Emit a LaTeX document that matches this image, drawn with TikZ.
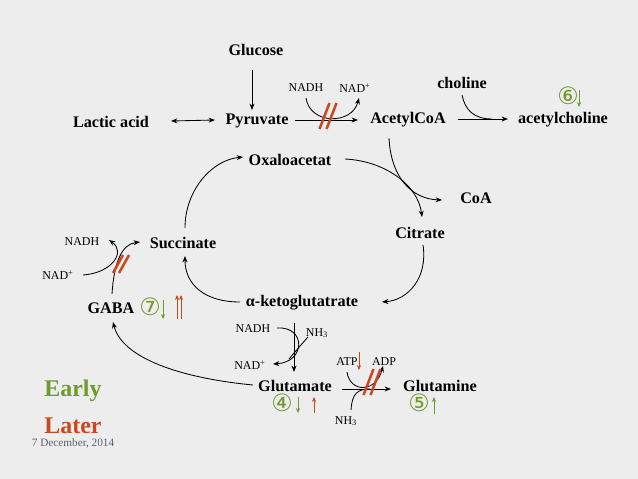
\documentclass[tikz,border=0pt]{standalone}
\usepackage{fontspec}
\setmainfont{Liberation Serif}
\newfontfamily\circfont{DejaVu Sans}
\usetikzlibrary{arrows.meta}
\definecolor{bgcol}{HTML}{EDEDED}
\definecolor{early}{HTML}{6E9B2C}
\definecolor{later}{HTML}{C9491F}
\definecolor{datecol}{HTML}{5A6070}
\tikzset{
  >={Stealth[length=4.5pt,width=3.5pt]},
  met/.style={font=\fontsize{11.5}{13}\selectfont\bfseries, inner sep=1pt},
  cof/.style={font=\fontsize{8.5}{10}\selectfont, inner sep=1pt},
  circ/.style={font=\circfont\fontsize{17}{19}\selectfont, text=early, inner sep=0pt},
  flow/.style={->, line width=0.6pt},
  block/.style={later, line width=1.8pt},
  ind/.style={-{Stealth[length=3.5pt,width=3pt]}, line width=0.7pt},
}
\begin{document}
\begin{tikzpicture}[x=0.025cm, y=-0.025cm]
  \fill[bgcol] (0,0) rectangle (638,479);
  % metabolites
  \node[met] (glucose)   at (256,50)  {Glucose};
  \node[met] (lactic)    at (111,122) {Lactic acid};
  \node[met] (pyruvate)  at (257,121) {Pyruvate};
  \node[met] (acetyl)    at (408,120) {AcetylCoA};
  \node[met] (choline)   at (462,83)  {choline};
  \node[met] (achol)     at (563,120) {acetylcholine};
  \node[met] (oxalo)     at (290,160) {Oxaloacetat};
  \node[met] (coa)       at (476,198) {CoA};
  \node[met] (citrate)   at (420,233) {Citrate};
  \node[met] (succ)      at (183,243) {Succinate};
  \node[met] (akg)       at (302,303) {α-ketoglutatrate};
  \node[met] (gaba)      at (111,308) {GABA};
  \node[met] (glutamate) at (295,386) {Glutamate};
  \node[met] (glutamine) at (440,386) {Glutamine};
  % cofactors
  \node[cof] (nadhA) at (306,88)  {NADH};
  \node[cof] (nadA)  at (355,88)  {NAD\textsuperscript{+}};
  \node[cof] (nadhB) at (82,242)  {NADH};
  \node[cof] (nadB)  at (58,275)  {NAD\textsuperscript{+}};
  \node[cof] (nadhC) at (253,329) {NADH};
  \node[cof] (nhC)   at (317,333) {NH\textsubscript{3}};
  \node[cof] (nadC)  at (250,365) {NAD\textsuperscript{+}};
  \node[cof] (atp)   at (347,362) {ATP};
  \node[cof] (adp)   at (384,362) {ADP};
  \node[cof] (nhD)   at (346,421) {NH\textsubscript{3}};
  \node[circ] (four)  at (282,403) {④};
  \node[circ] (five)  at (419,403) {⑤};
  \node[circ] (six)   at (568,96)  {⑥};
  \node[circ] (seven) at (150,307) {⑦};
  \node[font=\fontsize{17}{20}\selectfont\bfseries, text=early] (early) at (73,391) {Early};
  \node[font=\fontsize{17}{20}\selectfont\bfseries, text=later] (later) at (73,426) {Later};
  \node[font=\fontsize{8}{10}\selectfont, text=datecol] (date) at (73,443) {7 December, 2014};
  \coordinate (jchol) at (492,119);
  \coordinate (jnh)   at (289,359);
  \coordinate (jglu)  at (370,389);
  \coordinate (cut1)  at (328,116);
  \coordinate (cut2)  at (121,264);
  \coordinate (cut3)  at (372,382);

  \draw[flow] ([shift={(-4,20)}]glucose.center) -- ([shift={(-5,-11)}]pyruvate.center);
  \draw[<->, line width=0.6pt] ([shift={(60,-1)}]lactic.center) -- ([shift={(-42,-1)}]pyruvate.center);
  \draw[flow] ([shift={(38,-1)}]pyruvate.center) -- ([shift={(-50,0)}]acetyl.center);
  \draw[flow] ([shift={(0,10)}]nadhA.center) .. controls (310,125) and (352,125) .. ([shift={(4,10)}]nadA.center);
  \draw[flow] ([shift={(50,-1)}]acetyl.center) -- ([shift={(-55,-1)}]achol.center);
  \draw[line width=0.6pt] ([shift={(0,12)}]choline.center) .. controls (465,110) and (474,119) .. (jchol);
  % citric acid cycle
  \draw[flow] ([shift={(-19,18)}]acetyl.center) .. controls (391,178) and (412,199) .. ([shift={(-34,2)}]coa.center);
  \draw[flow] ([shift={(55,-1)}]oxalo.center) .. controls (385,161) and (418,185) .. ([shift={(2,-16)}]citrate.center);
  \draw[flow] ([shift={(3,12)}]citrate.center) .. controls (428,278) and (408,300) .. ([shift={(80,-1)}]akg.center);
  \draw[flow] ([shift={(-62,-1)}]akg.center) .. controls (205,302) and (185,285) .. ([shift={(2,13)}]succ.center);
  \draw[flow] ([shift={(2,-15)}]succ.center) .. controls (185,190) and (212,160) .. ([shift={(-47,-3)}]oxalo.center);
  % GABA shunt
  \draw[flow] ([shift={(1,-14)}]gaba.center) .. controls (114,262) and (122,244) .. ([shift={(-43,-1)}]succ.center);
  \draw[flow] ([shift={(25,0)}]nadB.center) .. controls (112,273) and (126,252) .. ([shift={(27,-2)}]nadhB.center);
  \draw[flow] ([shift={(-42,-1)}]glutamate.center) .. controls (180,378) and (122,358) .. ([shift={(2,14)}]gaba.center);
  \draw[flow] ([shift={(-8,20)}]akg.center) -- ([shift={(-1,-14)}]glutamate.center);
  \draw[flow] ([shift={(24,-1)}]nadhC.center) .. controls (306,326) and (306,362) .. ([shift={(23,-1)}]nadC.center);
  \draw[line width=0.6pt] ([shift={(-9,4)}]nhC.center) .. controls (300,346) and (294,353) .. (jnh);
  \draw[flow] ([shift={(47,3)}]glutamate.center) -- ([shift={(-49,3)}]glutamine.center);
  \draw[flow] ([shift={(0,10)}]atp.center) .. controls (350,393) and (376,393) .. ([shift={(-1,4)}]adp.center);
  \draw[line width=0.6pt] ([shift={(5,-11)}]nhD.center) .. controls (352,393) and (358,389) .. (jglu);
  % blocked steps
  \foreach \c in {cut1,cut3}{
    \foreach \d in {-3.5,3.5}{
      \draw[block] ([shift={(\d+5,-13)}]\c) -- ++(-10,26);
    }
  }
  \foreach \d in {-3,3}{
    \draw[block] ([shift={(\d+5,-9)}]cut2) -- ++(-10,18);
  }
  % up / down marks
  \draw[ind, early] ([shift={(11,-6)}]six.center) -- ++(0,17);
  \draw[ind, early] ([shift={(13,-7)}]seven.center) -- ++(0,19);
  \draw[ind, later] ([shift={(27,12)}]seven.center) -- ++(0,-24);
  \draw[ind, later] ([shift={(31,12)}]seven.center) -- ++(0,-24);
  \draw[ind, early] ([shift={(16,-6)}]four.center) -- ++(0,16);
  \draw[ind, later] ([shift={(32,10)}]four.center) -- ++(0,-16);
  \draw[ind, early] ([shift={(15,11)}]five.center) -- ++(0,-17);
  \draw[ind, later] ([shift={(12,-10)}]atp.center) -- ++(0,18);
\end{tikzpicture}
\end{document}
